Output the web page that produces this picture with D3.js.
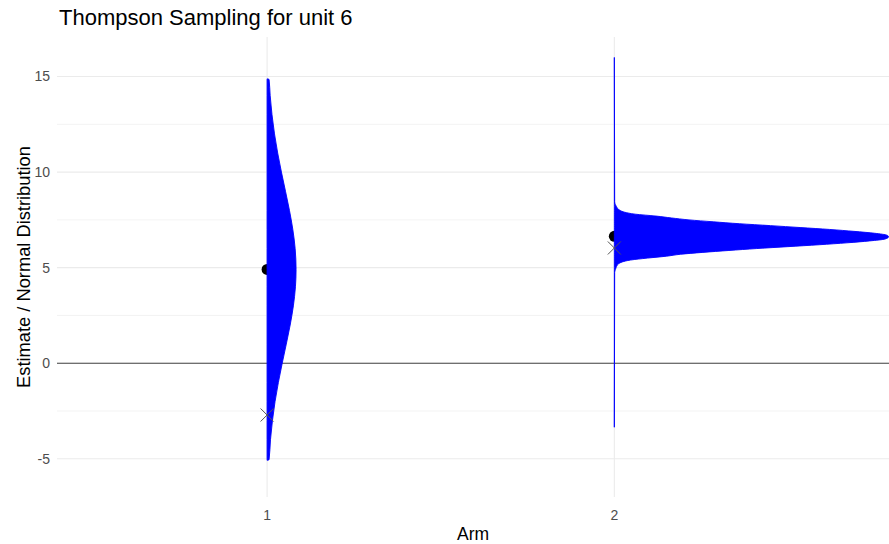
<!DOCTYPE html>
<html>
<head>
<meta charset="utf-8">
<script src="https://cdn.jsdelivr.net/npm/d3@7"></script>
<style>
  body { margin: 0; background: #fff; }
  svg { display: block; font-family: "Liberation Sans", Arial, sans-serif; }
</style>
</head>
<body>
<div id="chart"></div>
<script>
const arms = [1, 2];
const estimates = [4.91, 6.64];
const trueValues = [-2.71, 6.03];
const yTicks = [-5, 0, 5, 10, 15];
const yMinorTicks = [-2.5, 2.5, 7.5, 12.5];

// density profiles: [y, width in arm units]
const arm1Density = [
  [-5.08, 0], [-5.05, 0.0057], [-4, 0.0098], [-3, 0.0155], [-2, 0.023], [-1, 0.0326],
  [0, 0.0436], [1, 0.0553], [2, 0.0665], [3, 0.0757], [4, 0.0817], [4.9, 0.0835],
  [6, 0.0808], [7, 0.0741], [8, 0.0644], [9, 0.053], [10, 0.0413], [11, 0.0305],
  [12, 0.0214], [13, 0.0142], [14, 0.0089], [14.85, 0.0057], [14.88, 0]
];
const arm2Density = [
  [-3.35, 0], [4.75, 0.001], [4.9, 0.003], [5.0, 0.005], [5.2, 0.012], [5.3, 0.023],
  [5.4, 0.047], [5.5, 0.095], [5.6, 0.15], [5.7, 0.19], [5.8, 0.255], [5.9, 0.33],
  [6.0, 0.41], [6.1, 0.5], [6.2, 0.59], [6.3, 0.67], [6.4, 0.735], [6.5, 0.78],
  [6.62, 0.79], [6.7, 0.785], [6.8, 0.75], [6.9, 0.69], [7.0, 0.62], [7.1, 0.535],
  [7.2, 0.45], [7.3, 0.36], [7.4, 0.285], [7.5, 0.215], [7.6, 0.165], [7.7, 0.12],
  [7.8, 0.06], [7.9, 0.03], [8.0, 0.016], [8.2, 0.006], [8.3, 0.003], [8.45, 0.001],
  [16.0, 0]
];
const densities = [arm1Density, arm2Density];

const width = 889;
const height = 544;
const margin = { top: 37, right: 0, bottom: 47, left: 57 };

const x = d3.scaleLinear()
  .domain([0.395, 2.791])
  .range([margin.left, width - margin.right]);

const y = d3.scaleLinear()
  .domain([-7.0, 17.07])
  .range([height - margin.bottom, margin.top]);

const svg = d3.select("#chart")
  .append("svg")
  .attr("width", width)
  .attr("height", height);

svg.append("defs").append("clipPath")
  .attr("id", "panel")
  .append("rect")
  .attr("x", margin.left)
  .attr("y", margin.top)
  .attr("width", width - margin.left - margin.right)
  .attr("height", height - margin.top - margin.bottom);

const grid = svg.append("g");

grid.selectAll(".minor")
  .data(yMinorTicks)
  .join("line")
  .attr("x1", margin.left)
  .attr("x2", width - margin.right)
  .attr("y1", (d) => y(d))
  .attr("y2", (d) => y(d))
  .attr("stroke", "#ebebeb")
  .attr("stroke-width", 0.6);

grid.selectAll(".major")
  .data(yTicks)
  .join("line")
  .attr("x1", margin.left)
  .attr("x2", width - margin.right)
  .attr("y1", (d) => y(d))
  .attr("y2", (d) => y(d))
  .attr("stroke", "#ebebeb")
  .attr("stroke-width", 1.1);

grid.selectAll(".vmajor")
  .data(arms)
  .join("line")
  .attr("x1", (d) => x(d))
  .attr("x2", (d) => x(d))
  .attr("y1", margin.top)
  .attr("y2", height - margin.bottom)
  .attr("stroke", "#ebebeb")
  .attr("stroke-width", 1.1);

// zero line
svg.append("line")
  .attr("x1", margin.left)
  .attr("x2", width - margin.right)
  .attr("y1", y(0))
  .attr("y2", y(0))
  .attr("stroke", "#444")
  .attr("stroke-width", 1.1);

const plot = svg.append("g").attr("clip-path", "url(#panel)");

// estimates (drawn beneath the densities)
plot.selectAll(".est")
  .data(arms)
  .join("circle")
  .attr("cx", (d) => x(d))
  .attr("cy", (d, i) => y(estimates[i]))
  .attr("r", 5.5)
  .attr("fill", "#000");

const area = d3.area()
  .curve(d3.curveMonotoneY)
  .y((d) => y(d[0]));

plot.selectAll(".dens")
  .data(densities)
  .join("path")
  .attr("d", (d, i) =>
    area.x0(x(arms[i])).x1((p) => x(arms[i] + p[1]))(d)
  )
  .attr("fill", "#0000ff")
  .attr("stroke", "#0000ff")
  .attr("stroke-width", 0.9);

// true values as crosses
const s = 6.5;
plot.selectAll(".truth")
  .data(arms)
  .join("path")
  .attr("d", (d, i) => {
    const cx = x(d), cy = y(trueValues[i]);
    return `M${cx - s},${cy - s}L${cx + s},${cy + s}M${cx - s},${cy + s}L${cx + s},${cy - s}`;
  })
  .attr("stroke", "#555")
  .attr("stroke-width", 1)
  .attr("fill", "none");

// axes
svg.append("g")
  .selectAll("text")
  .data(yTicks)
  .join("text")
  .attr("x", 50)
  .attr("y", (d) => y(d))
  .attr("dy", "0.35em")
  .attr("text-anchor", "end")
  .attr("fill", "#4d4d4d")
  .attr("font-size", 14)
  .text((d) => d);

svg.append("g")
  .selectAll("text")
  .data(arms)
  .join("text")
  .attr("x", (d) => x(d))
  .attr("y", 520)
  .attr("text-anchor", "middle")
  .attr("fill", "#4d4d4d")
  .attr("font-size", 14)
  .text((d) => d);

svg.append("text")
  .attr("x", (margin.left + width - margin.right) / 2)
  .attr("y", 540)
  .attr("text-anchor", "middle")
  .attr("font-size", 17.5)
  .attr("fill", "#000")
  .text("Arm");

svg.append("text")
  .attr("transform", `translate(30,${(margin.top + height - margin.bottom) / 2}) rotate(-90)`)
  .attr("text-anchor", "middle")
  .attr("font-size", 18.3)
  .attr("fill", "#000")
  .text("Estimate / Normal Distribution");

svg.append("text")
  .attr("x", 59)
  .attr("y", 25)
  .attr("font-size", 22)
  .attr("fill", "#000")
  .text("Thompson Sampling for unit 6");
</script>
</body>
</html>
